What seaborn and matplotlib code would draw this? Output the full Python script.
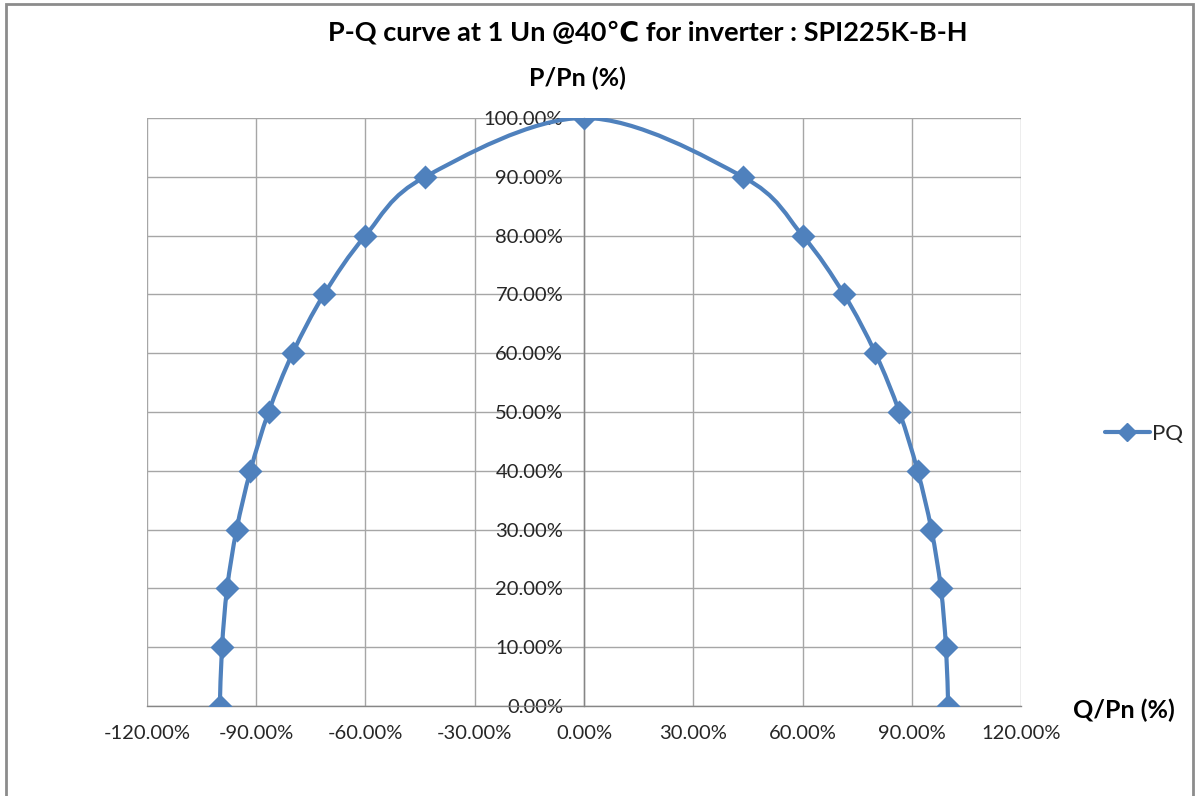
import matplotlib
matplotlib.use("Agg")
import matplotlib.pyplot as plt
from matplotlib.path import Path
from matplotlib.patches import PathPatch, Rectangle
from matplotlib.lines import Line2D
from matplotlib.ticker import MultipleLocator, FuncFormatter
import numpy as np
import pandas as pd
import seaborn as sns

# points (%), left half bottom->top, then right half top->bottom
q_pct = [-100.0, -99.4, -98.0, -95.4, -91.6, -86.6, -80.0, -71.4, -60.0, -43.6,
         0.0, 43.6, 60.0, 71.4, 80.0, 86.6, 91.6, 95.4, 98.0, 99.4, 100.0]
p_pct = [0, 10, 20, 30, 40, 50, 60, 70, 80, 90,
         100, 90, 80, 70, 60, 50, 40, 30, 20, 10, 0]
series_name = "PQ"
title = "P-Q curve at 1 Un @40\u2103 for inverter : SPI225K-B-H"

blue = "#4F81BD"
grid_c = "#A6A6A6"
axis_c = "#868686"

sns.set_style("white")
plt.rcParams['font.family'] = ['Lato', 'DejaVu Sans']

df = pd.DataFrame({"Q": q_pct, "P": p_pct})

fig = plt.figure(figsize=(11.95, 7.96), dpi=100)
ax = fig.add_axes([0.123, 0.1131, 0.7314, 0.7387])

# smoothed line like excel (catmull-rom bezier through the points)
pts = df[["Q", "P"]].to_numpy(dtype=float)
verts = [pts[0]]
codes = [Path.MOVETO]
n = len(pts)
for i in range(n - 1):
    p0 = pts[i - 1] if i > 0 else pts[i]
    p1 = pts[i]
    p2 = pts[i + 1]
    p3 = pts[i + 2] if i + 2 < n else pts[i + 1]
    c1 = p1 + (p2 - p0) / 6.0
    c2 = p2 - (p3 - p1) / 6.0
    verts += [c1, c2, p2]
    codes += [Path.CURVE4] * 3
ax.add_patch(PathPatch(Path(verts, codes), fill=False, edgecolor=blue,
                       lw=3.0, capstyle="round", joinstyle="round", zorder=3))

sns.scatterplot(data=df, x="Q", y="P", marker="D", s=150, color=blue,
                edgecolor=blue, linewidth=0, ax=ax, zorder=4, legend=False)

ax.set_xlim(-120, 120)
ax.set_ylim(0, 100)
ax.xaxis.set_major_locator(MultipleLocator(30))
ax.yaxis.set_major_locator(MultipleLocator(10))
fmt = FuncFormatter(lambda v, pos: f"{v:.2f}%")
ax.xaxis.set_major_formatter(fmt)
ax.yaxis.set_major_formatter(fmt)

ax.grid(True, color=grid_c, lw=1.0)
ax.set_axisbelow(True)
for s in ["top", "right"]:
    ax.spines[s].set_visible(False)
ax.spines["left"].set_position(("data", 0))
ax.spines["left"].set_color(axis_c)
ax.spines["bottom"].set_color(axis_c)
ax.spines["left"].set_linewidth(1.0)
ax.spines["bottom"].set_linewidth(1.0)

ax.tick_params(axis="x", direction="out", length=7, width=1, color=axis_c,
               labelsize=14.5, labelcolor="#262626", pad=7)
ax.tick_params(axis="y", length=0, labelsize=14.5, labelcolor="#262626", pad=15)
for lab in ax.get_yticklabels():
    lab.set_zorder(5)

ax.set_xlabel("")
ax.set_ylabel("")

fig.text(0.542, 0.959, title, ha="center", va="center", fontsize=19.5,
         fontweight="bold", color="black")
fig.text(0.483, 0.902, "P/Pn (%)", ha="center", va="center", fontsize=18,
         fontweight="bold", color="black")
fig.text(0.898, 0.108, "Q/Pn (%)", ha="left", va="center", fontsize=18,
         fontweight="bold", color="black")

handle = Line2D([0], [0], color=blue, lw=3, marker="D", markersize=9)
fig.legend([handle], [series_name], loc="center left",
           bbox_to_anchor=(0.908, 0.455), frameon=False, fontsize=16,
           handlelength=2.0, handletextpad=0.1)

fig.patches.append(Rectangle((6 / 1195, -0.05), 1187 / 1195, 1.045,
                             transform=fig.transFigure, fill=False,
                             edgecolor="#8C8C8C", lw=2.0))

fig.savefig("out.png", dpi=100)
